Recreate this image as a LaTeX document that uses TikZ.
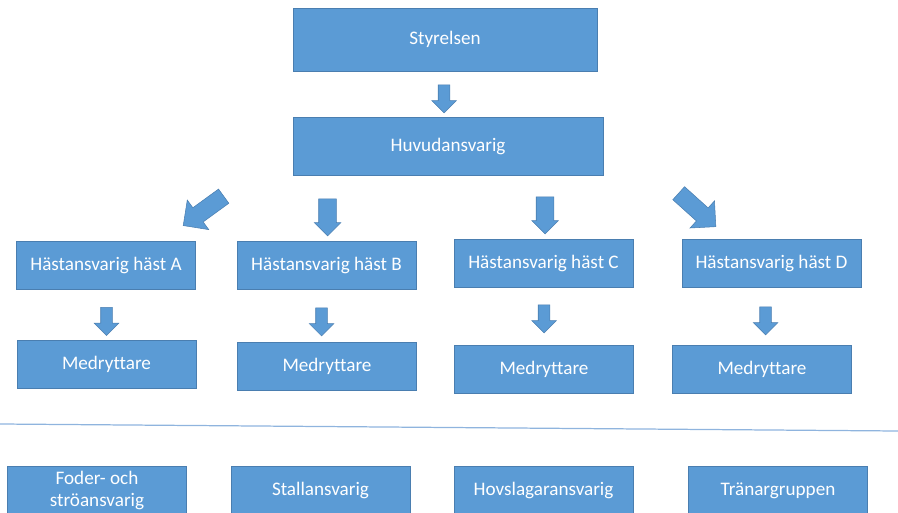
\documentclass[tikz,border=0pt]{standalone}
\usepackage{fontspec}
\setmainfont{Carlito}[Ligatures=NoCommon]
\usetikzlibrary{shapes.arrows}
\definecolor{boxblue}{HTML}{5B9BD5}
\definecolor{boxline}{HTML}{4A7EB0}
\definecolor{divline}{HTML}{8FB4DE}
\tikzset{box/.style = {draw=boxline, fill=boxblue, text=white, line width=0.4pt,
                       minimum width=3.58cm, minimum height=0.96cm, inner sep=0,
                       align=center, font=\fontsize{10.9}{12.5}\selectfont}}
\tikzset{blk/.style = {single arrow, draw=boxline, fill=boxblue, line width=0.3pt,
                       inner xsep=0, minimum width=0pt, single arrow tip angle=90}}
\tikzset{blk small/.style = {blk, rotate=-90, minimum height=0.56cm, inner ysep=0.11cm,
                             single arrow head extend=0.13cm}}
\tikzset{blk mid/.style = {blk, rotate=-90, minimum height=0.74cm, inner ysep=0.17cm,
                           single arrow head extend=0.09cm}}
\tikzset{blk diag/.style = {blk, minimum height=1.0cm, inner ysep=0.17cm,
                            single arrow head extend=0.19cm}}

\begin{document}
\begin{tikzpicture}[x=0.02cm, y=-0.02cm]
  \useasboundingbox (0, 0) rectangle (898, 513);
  \node [box, minimum width=6.08cm, minimum height=1.26cm] (styr) at (445, 39.5) {Styrelsen};
  \node [box, minimum width=6.2cm, minimum height=1.16cm] (huvud) at (448, 146) {Huvudansvarig};

  \node [box] (hA) at (106, 265.5) {Hästansvarig häst A};
  \node [box] (hB) at (326.5, 265.5) {Hästansvarig häst B};
  \node [box] (hC) at (543.5, 263) {Hästansvarig häst C};
  \node [box] (hD) at (771.5, 263) {Hästansvarig häst D};

  \node [box] (mA) at (106.5, 364) {Medryttare};
  \node [box] (mB) at (327, 366) {Medryttare};
  \node [box] (mC) at (544, 369.5) {Medryttare};
  \node [box] (mD) at (762, 369.5) {Medryttare};

  % block arrows
  \node [blk small] (aStyr) at (444, 96) {};
  \node [blk diag, rotate=216] (aA) at (207, 208.3) {};
  \node [blk mid] (aB) at (327.5, 213) {};
  \node [blk mid] (aC) at (545, 211) {};
  \node [blk diag, rotate=-42] (aD) at (694, 207) {};
  \node [blk small] (amA) at (106.5, 318.5) {};
  \node [blk small] (amB) at (321.5, 319) {};
  \node [blk small] (amC) at (544, 316) {};
  \node [blk small] (amD) at (765.5, 318) {};

  \coordinate (divL) at (0, 424);
  \coordinate (divR) at (898, 431);
  \draw [divline, line width=0.7pt] (divL) -- (divR);

  \node [box] (foder) at (97, 490.5) {Foder- och\\ströansvarig};
  \node [box] (stall) at (320.5, 490.5) {Stallansvarig};
  \node [box] (hovs) at (543.5, 490.5) {Hovslagaransvarig};
  \node [box] (tran) at (778, 490.5) {Tränargruppen};
\end{tikzpicture}
\end{document}
